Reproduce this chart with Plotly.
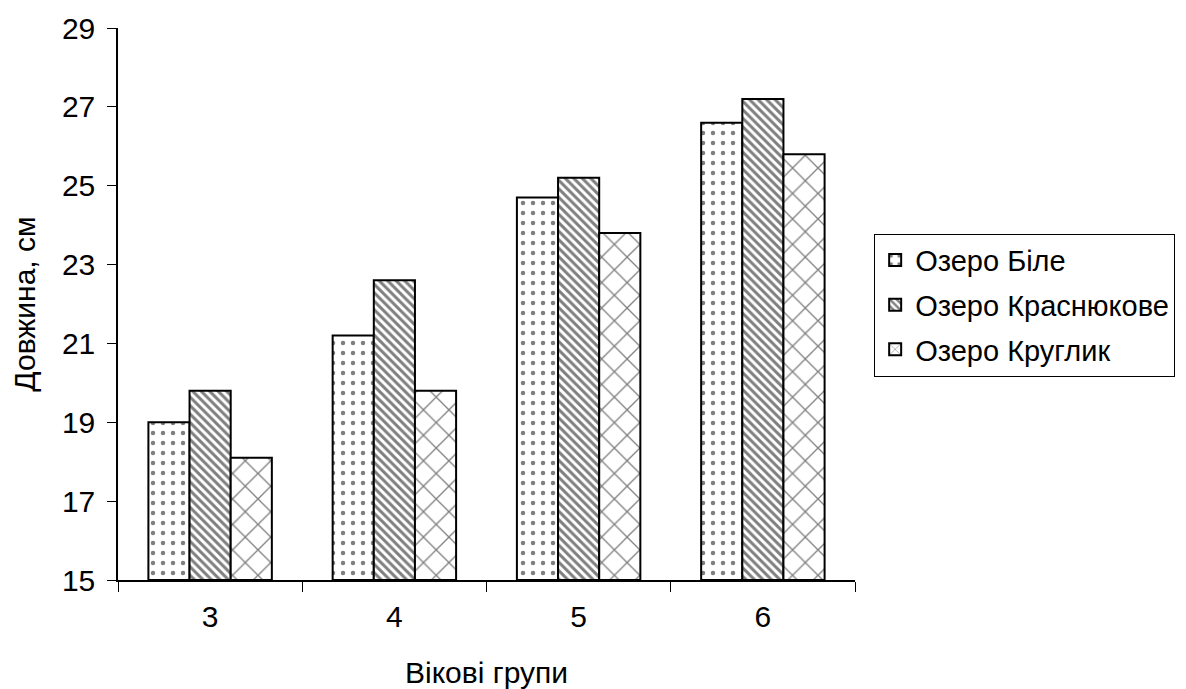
import plotly.graph_objects as go

categories = ["3", "4", "5", "6"]
series_names = ["Озеро Біле", "Озеро Краснюкове", "Озеро Круглик"]
bile = [19.0, 21.2, 24.7, 26.6]
krasniukove = [19.8, 22.6, 25.2, 27.2]
kruhlyk = [18.1, 19.8, 23.8, 25.8]
y_ticks = [15, 17, 19, 21, 23, 25, 27, 29]

patterns = [".", "\\", "x"]
values = [bile, krasniukove, kruhlyk]
pat_size = [10, 6, 18]
pat_sol = [0.16, 0.5, 0.14]

fig = go.Figure()
for i, (name, vals, shp, sz, sol) in enumerate(zip(series_names, values, patterns, pat_size, pat_sol)):
    fig.add_trace(go.Bar(
        x=categories, y=[v - 15 for v in vals], base=15, name=name,
        legendgroup=f"g{i}",
        marker=dict(color="white", line=dict(color="black", width=2),
                    pattern=dict(shape=shp, fgcolor="black", bgcolor="white", size=sz, solidity=sol)),
    ))

fig.update_layout(
    width=1178, height=681,
    barmode="group", bargap=0.33, bargroupgap=0,
    plot_bgcolor="white", paper_bgcolor="white",
    font=dict(family="Liberation Sans, Arial, sans-serif", size=30, color="black"),
    margin=dict(l=110, r=331, t=20, b=109, pad=0, autoexpand=False),
    legend=dict(x=1.026, y=0.498, xanchor="left", yanchor="middle",
                bordercolor="black", borderwidth=1, font=dict(size=29),
                traceorder="grouped", tracegroupgap=4, itemwidth=30),
    showlegend=True,
)
fig.update_xaxes(
    type="category", showline=True, linecolor="black", linewidth=1.5,
    ticks="outside", tickson="boundaries", ticklen=10, tickcolor="black",
    tickfont=dict(size=30), automargin=False, ticklabelstandoff=9,
    showgrid=False, title=dict(text="Вікові групи", standoff=30, font=dict(size=30)),
)
fig.update_yaxes(
    range=[15, 29], tickvals=y_ticks, showline=True, linecolor="black", linewidth=1.5,
    ticks="outside", ticklen=9, tickcolor="black", showgrid=False, zeroline=False,
    tickfont=dict(size=30), automargin=False, ticklabelstandoff=6,
    title=dict(text="Довжина, см", standoff=21, font=dict(size=30)),
)

fig.write_html("out.html")
